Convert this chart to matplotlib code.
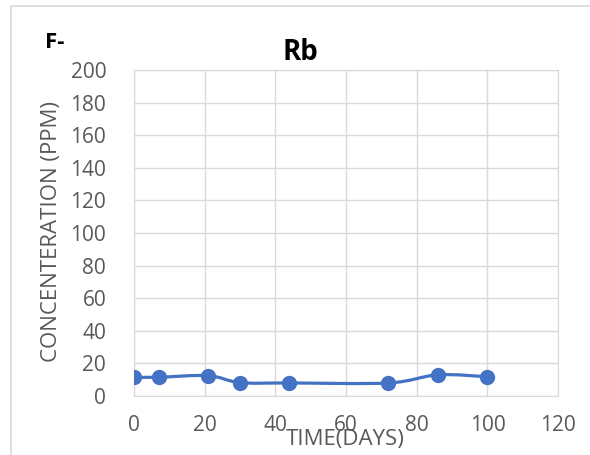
import matplotlib.pyplot as plt
from matplotlib.path import Path
from matplotlib.patches import PathPatch, Rectangle
import numpy as np

days = [0, 7, 21, 30, 44, 72, 86, 100]
rb = [11.5, 11.5, 12.5, 8.2, 8.0, 8.0, 13.0, 11.8]

plt.rcParams['font.family'] = ['Open Sans', 'DejaVu Sans']

fig = plt.figure(figsize=(5.9, 4.55), dpi=100)
fig.patches.append(Rectangle((11/590, -0.01), 1.0, 1 - 6/455 + 0.01, transform=fig.transFigure,
                             fill=False, edgecolor='#d9d9d9', lw=1.2))
ax = fig.add_axes([0.227, 0.1297, 0.719, 0.7163])

# smooth line, Excel style (catmull-rom bezier)
x = np.array(days, float)
y = np.array(rb, float)
verts = [(x[0], y[0])]
codes = [Path.MOVETO]
for i in range(len(x) - 1):
    p0 = (x[max(i-1, 0)], y[max(i-1, 0)])
    p1 = (x[i], y[i])
    p2 = (x[i+1], y[i+1])
    p3 = (x[min(i+2, len(x)-1)], y[min(i+2, len(x)-1)])
    c1 = (p1[0] + (p2[0]-p0[0])/6, p1[1] + (p2[1]-p0[1])/6)
    c2 = (p2[0] - (p3[0]-p1[0])/6, p2[1] - (p3[1]-p1[1])/6)
    verts += [c1, c2, p2]
    codes += [Path.CURVE4]*3
ax.add_patch(PathPatch(Path(verts, codes), fill=False, edgecolor='#4472c4', lw=2.3, zorder=3))
ax.plot(days, rb, 'o', color='#4472c4', markersize=10, zorder=4)

ax.set_xlim(0, 120)
ax.set_ylim(0, 200)
ax.set_xticks(range(0, 121, 20))
ax.set_yticks(range(0, 201, 20))
ax.grid(True, color='#d9d9d9', lw=1)
ax.set_axisbelow(True)
for s in ax.spines.values():
    s.set_color('#d9d9d9')
ax.tick_params(length=0, labelsize=15, colors='#595959')
ax.tick_params(axis='y', pad=20)
ax.tick_params(axis='x', pad=14)

fig.text(300/590, 1 - 52/455, 'Rb', ha='center', va='center', fontsize=20, fontweight='bold')
fig.text(45/590, 1 - 43/455, 'F-', ha='left', va='center', fontsize=16, fontweight='bold')
fig.text(52/590, 1 - 232/455, 'CONCENTERATION (PPM)', rotation=90, ha='center', va='center',
         fontsize=16, color='#595959')
fig.text(345/590, 1 - 439/455, 'TIME(DAYS)', ha='center', va='center', fontsize=16, color='#595959')

fig.savefig('out.png', dpi=100)
